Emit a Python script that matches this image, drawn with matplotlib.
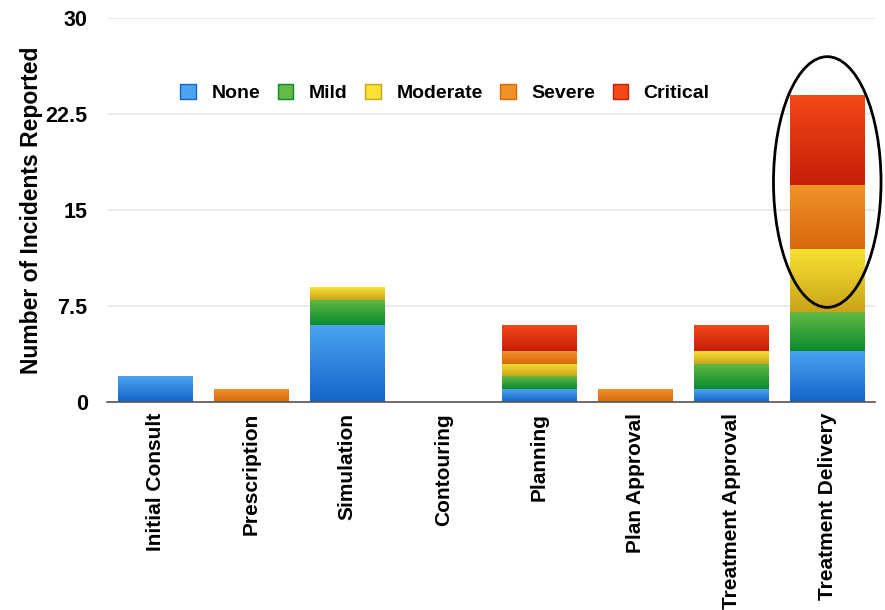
import numpy as np
import matplotlib.pyplot as plt
from matplotlib.colors import LinearSegmentedColormap
from matplotlib.patches import Ellipse, Patch

plt.rcParams['font.family'] = ['Liberation Sans', 'DejaVu Sans']
plt.rcParams['font.weight'] = 'bold'

stages = ['Initial Consult', 'Prescription', 'Simulation', 'Contouring',
          'Planning', 'Plan Approval', 'Treatment Approval', 'Treatment Delivery']
severity = ['None', 'Mild', 'Moderate', 'Severe', 'Critical']

none_vals = [2, 0, 6, 0, 1, 0, 1, 4]
mild_vals = [0, 0, 2, 0, 1, 0, 2, 3]
moderate_vals = [0, 0, 1, 0, 1, 0, 1, 5]
severe_vals = [0, 1, 0, 0, 1, 1, 0, 5]
critical_vals = [0, 0, 0, 0, 2, 0, 2, 7]

yticks = [0, 7.5, 15, 22.5, 30]
ytick_labels = ['0', '7.5', '15', '22.5', '30']

# (bottom colour, top colour) for the vertical gradient in each segment
shades = [('#1565c8', '#4ba3f2'),
          ('#0b8a2e', '#62bb44'),
          ('#c9a41a', '#f8e232'),
          ('#d8680e', '#f09228'),
          ('#c61e08', '#f44818')]

series = [none_vals, mild_vals, moderate_vals, severe_vals, critical_vals]

fig = plt.figure(figsize=(8.85, 6.10), dpi=100)
ax = fig.add_axes([0.121, 0.341, 0.868, 0.629])

x = np.arange(len(stages))
width = 0.78
grad = np.linspace(0, 1, 64).reshape(-1, 1)
bottom = np.zeros(len(stages))
for vals, (c0, c1) in zip(series, shades):
    cmap = LinearSegmentedColormap.from_list('g', [c0, c1])
    for xi, b, v in zip(x, bottom, vals):
        if v <= 0:
            continue
        ax.imshow(grad, cmap=cmap, origin='lower', aspect='auto',
                  extent=[xi - width / 2, xi + width / 2, b, b + v],
                  zorder=3, interpolation='bilinear')
    bottom += np.array(vals)

ax.set_xlim(-0.5, len(stages) - 0.5)
ax.set_ylim(0, 30)
ax.set_yticks(yticks)
ax.set_yticklabels(ytick_labels, fontsize=15.5, fontweight='bold')
ax.set_xticks(x)
ax.set_xticklabels(stages, rotation=90, fontsize=15, fontweight='bold')
ax.tick_params(axis='y', length=0, pad=14)
ax.tick_params(axis='x', length=0, pad=8)
ax.grid(axis='y', color='#e6e6e6', linewidth=1.2, zorder=0)
ax.set_axisbelow(True)
for s in ['top', 'right', 'left']:
    ax.spines[s].set_visible(False)
ax.spines['bottom'].set_color('#555555')
ax.spines['bottom'].set_linewidth(1.2)
ax.spines['bottom'].set_zorder(4)

ax.set_ylabel('Number of Incidents Reported', fontsize=16.5, fontweight='bold', labelpad=2)

handles = [Patch(facecolor=c1, edgecolor=c0) for c0, c1 in shades]
ax.legend(handles, severity, loc='upper center', bbox_to_anchor=(0.44, 0.875),
          ncol=5, frameon=False, prop={'size': 14, 'weight': 'bold'},
          handlelength=0.8, handleheight=0.8, handletextpad=0.8, columnspacing=0.9)

# highlight on the Treatment Delivery bar
ell = Ellipse((7, 17.2), 1.12, 19.6, fill=False, edgecolor='black', linewidth=2,
              zorder=5, clip_on=False)
ax.add_patch(ell)

fig.savefig('out.png', dpi=100)
